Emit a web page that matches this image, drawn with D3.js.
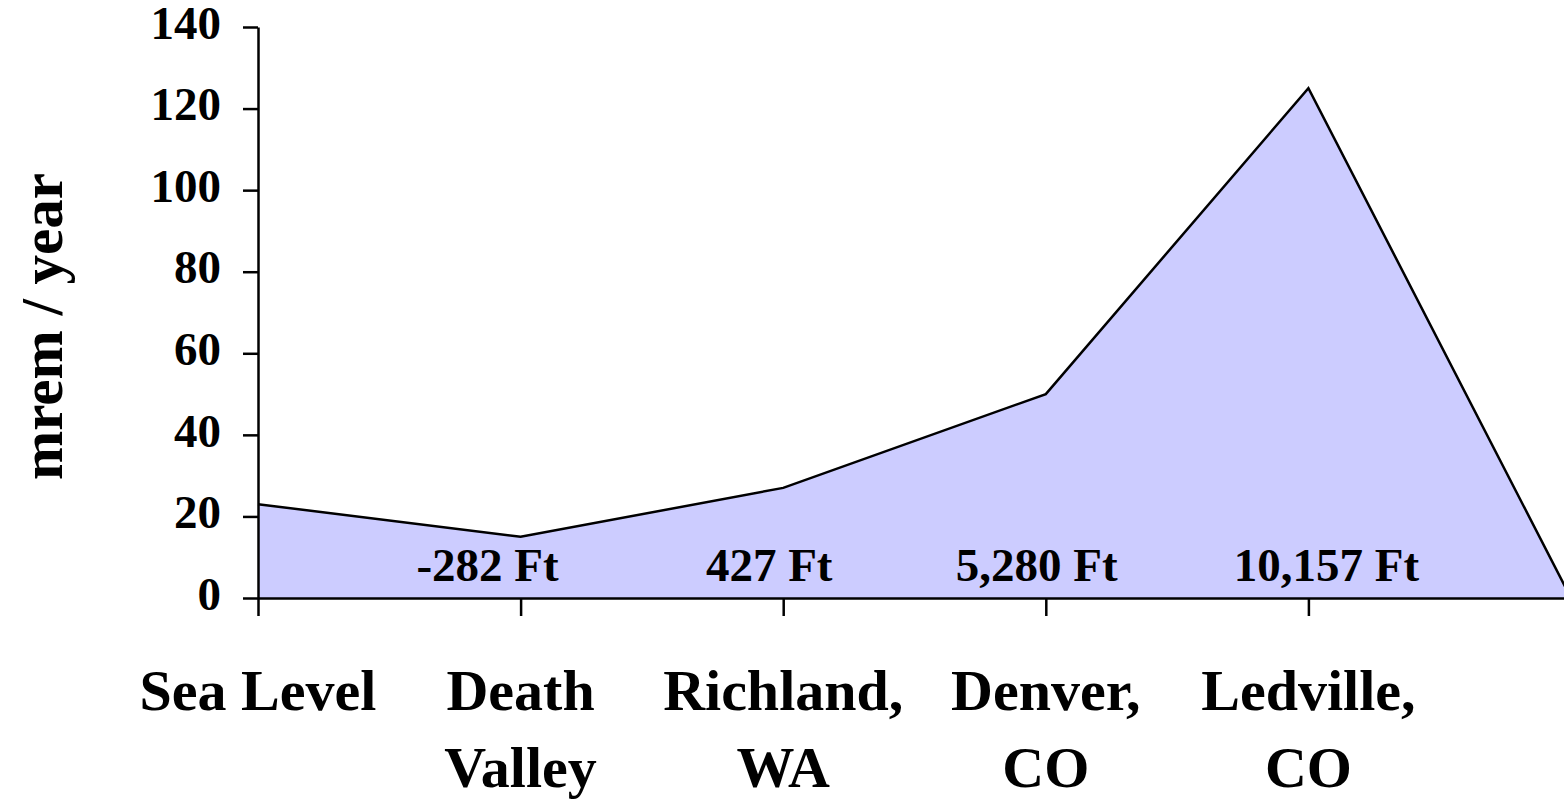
<!DOCTYPE html>
<html>
<head>
<meta charset="utf-8">
<script src="https://cdn.jsdelivr.net/npm/d3@7"></script>
<style>
  html, body { margin: 0; padding: 0; background: #ffffff; }
  svg { display: block; }
  text { font-family: "Liberation Serif", "Times New Roman", serif; font-weight: bold; fill: #000; }
</style>
</head>
<body>
<svg id="chart" width="1564" height="799"></svg>
<script>
// Natural background dose by location (mrem / year)
const categories = [["Sea Level"], ["Death", "Valley"], ["Richland,", "WA"], ["Denver,", "CO"], ["Ledville,", "CO"], [""]];
const doseValues = [23, 15, 27, 50, 125, 0];
const elevationLabels = ["", "-282 Ft", "427 Ft", "5,280 Ft", "10,157 Ft", ""];
const yTicks = [0, 20, 40, 60, 80, 100, 120, 140];
const yTitle = "mrem / year";

const svg = d3.select("#chart");

// plot frame
const plotLeft = 258, plotRight = 1571, plotTop = 27, plotBottom = 598;

const x = d3.scaleLinear().domain([0, categories.length - 1]).range([plotLeft, plotRight]);
const y = d3.scaleLinear().domain([0, 140]).range([plotBottom, plotTop]);

const plot = svg.append("g");

// filled area under the dose line
const area = d3.area()
  .x((d, i) => x(i))
  .y0(y(0))
  .y1(d => y(d));
plot.append("path")
  .datum(doseValues)
  .attr("d", area)
  .attr("fill", "#CCCCFF");

const line = d3.line()
  .x((d, i) => x(i))
  .y(d => y(d));
plot.append("path")
  .datum(doseValues)
  .attr("d", line)
  .attr("fill", "none")
  .attr("stroke", "#000")
  .attr("stroke-width", 2.5)
  .attr("stroke-linejoin", "miter");

// elevation annotations inside the area
const elevNudge = [0, -33, -14, -9, 18, 0];
plot.selectAll("text.elev")
  .data(elevationLabels)
  .join("text")
  .attr("class", "elev")
  .attr("x", (d, i) => x(i) + elevNudge[i])
  .attr("y", 581)
  .attr("text-anchor", "middle")
  .attr("font-size", 47)
  .text(d => d);

// y axis
const yAxis = d3.axisLeft(y).tickValues(yTicks).tickSize(15).tickPadding(22).tickSizeOuter(0);
const gy = svg.append("g").attr("transform", `translate(${plotLeft},0)`).call(yAxis);
gy.select(".domain").attr("stroke", "#000").attr("stroke-width", 2.5);
gy.selectAll(".tick line").attr("stroke", "#000").attr("stroke-width", 2.5);
gy.selectAll(".tick text")
  .attr("font-size", 47)
  .attr("font-family", "Liberation Serif, Times New Roman, serif")
  .attr("font-weight", "bold")
  .attr("fill", "#000")
  .attr("dy", "0.24em");

// x axis
const xAxis = d3.axisBottom(x).tickValues(d3.range(categories.length)).tickSize(18).tickFormat("").tickSizeOuter(0);
const gx = svg.append("g").attr("transform", `translate(0,${plotBottom})`).call(xAxis);
gx.select(".domain").attr("stroke", "#000").attr("stroke-width", 2.5);
gx.selectAll(".tick line").attr("stroke", "#000").attr("stroke-width", 2.5);

// category labels (two lines)
const catG = svg.append("g");
categories.forEach((lines, i) => {
  const t = catG.append("text")
    .attr("x", x(i))
    .attr("y", 710)
    .attr("text-anchor", "middle")
    .attr("font-size", 58);
  lines.forEach((s, j) => {
    t.append("tspan").attr("x", x(i)).attr("dy", j === 0 ? 0 : 77).text(s);
  });
});

// y axis title
svg.append("text")
  .attr("transform", `translate(62,${(plotTop + plotBottom) / 2 + 14}) rotate(-90)`)
  .attr("text-anchor", "middle")
  .attr("font-size", 59)
  .text(yTitle);
</script>
</body>
</html>
